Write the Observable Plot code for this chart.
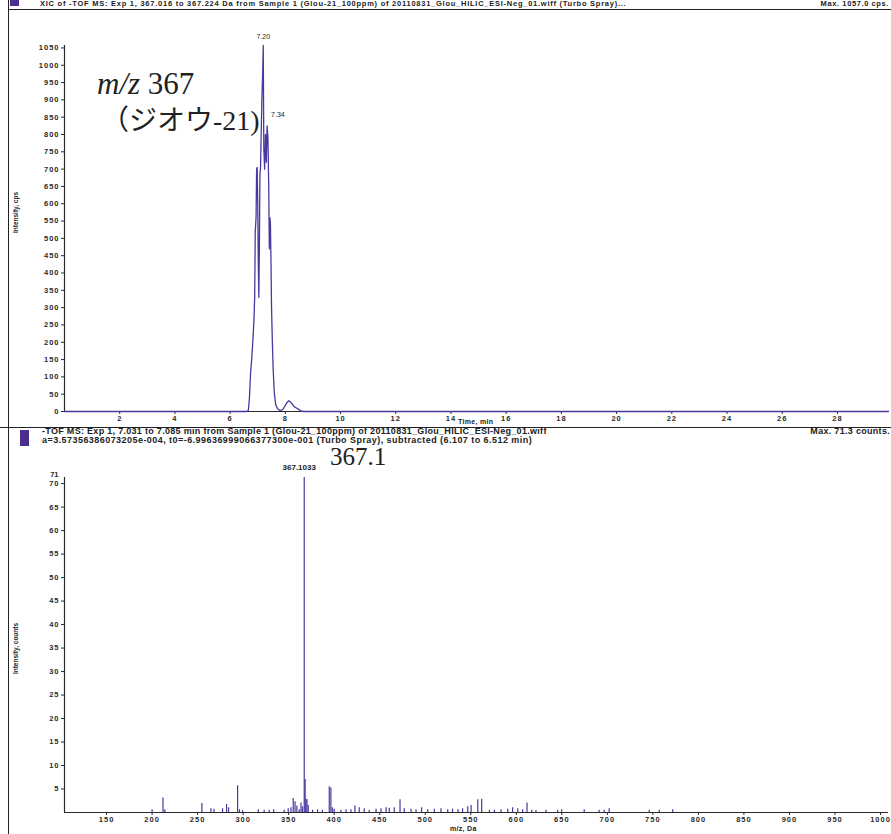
<!DOCTYPE html>
<html><head><meta charset="utf-8">
<script src="https://cdn.jsdelivr.net/npm/d3@7"></script>
<script src="https://cdn.jsdelivr.net/npm/@observablehq/plot@0.6"></script>
<style>
body{margin:0;background:#fff;}
#wrap{position:relative;width:891px;height:834px;overflow:hidden;background:#fff;font-family:"Liberation Sans",Arial,sans-serif;color:#111;}
.abs{position:absolute;white-space:nowrap;}
.hdr{font-size:9px;line-height:9px;font-weight:bold;color:#222;letter-spacing:0.3px;}
.hline{position:absolute;background:#222;}
.ylab{font-size:6.5px;font-weight:bold;color:#222;transform:rotate(-90deg);transform-origin:center;}
.ann{font-family:"Liberation Serif","Times New Roman",serif;color:#222;}
#top,#bot{position:absolute;left:0;}
#top{top:0;} #bot{top:428px;}
g[aria-label^="x-axis"] text, g[aria-label^="y-axis"] text{letter-spacing:1px;font-weight:bold;}
</style></head><body>
<div id="wrap">
  <div id="top"></div>
  <div id="bot"></div>
  <div class="hline" style="left:8px;top:0;width:1px;height:834px;"></div>
  <div class="hline" style="left:8px;top:9px;width:883px;height:1px;"></div>
  <div class="hline" style="left:0;top:427px;width:891px;height:1px;"></div>
  <div class="abs" style="left:10px;top:0;width:9px;height:6px;background:#4b2f8c;"></div>
  <div class="abs hdr" style="left:40px;top:0;font-size:7.5px;line-height:8px;letter-spacing:0.75px;">XIC of -TOF MS: Exp 1, 367.016 to 367.224 Da from Sample 1 (Glou-21_100ppm) of 20110831_Glou_HILIC_ESI-Neg_01.wiff (Turbo Spray)...</div>
  <div class="abs hdr" style="right:2px;top:0;font-size:7.5px;line-height:8px;letter-spacing:0.6px;">Max. 1057.0 cps.</div>
  <div class="abs" style="left:20px;top:430px;width:9px;height:16px;background:#4b2f8c;"></div>
  <div class="abs hdr" style="left:42px;top:427px;">-TOF MS: Exp 1, 7.031 to 7.085 min from Sample 1 (Glou-21_100ppm) of 20110831_Glou_HILIC_ESI-Neg_01.wiff</div>
  <div class="abs hdr" style="left:42px;top:436px;letter-spacing:0.45px;">a=3.57356386073205e-004, t0=-6.99636999066377300e-001 (Turbo Spray), subtracted (6.107 to 6.512 min)</div>
  <div class="abs hdr" style="right:1px;top:427px;">Max. 71.3 counts.</div>
  <div class="abs ylab" style="left:-10px;top:209px;width:50px;text-align:center;">Intensity, cps</div>
  <div class="abs ylab" style="left:-14px;top:645px;width:58px;text-align:center;">Intensity, counts</div>
  <div class="abs hdr" style="left:458px;top:417px;font-size:7px;">Time, min</div>
  <div class="abs hdr" style="left:450px;top:824px;font-size:7px;">m/z, Da</div>
  <div class="abs ann" style="left:97px;top:66px;font-size:31px;"><i>m/z</i> 367</div>
  <div class="abs ann" style="left:101px;top:98px;font-size:28px;font-family:'Liberation Serif','Noto Sans CJK JP',serif;">（ジオウ-21)</div>
  <div class="abs ann" style="left:330px;top:443px;font-size:25px;">367.1</div>
</div>
<script>
// ---- Top panel: extracted ion chromatogram (m/z 367) ----
const xicTime = [0, 6.60, 6.66, 6.70, 6.74, 6.78, 6.82, 6.86, 6.89, 6.91, 6.94, 6.96, 6.98, 7.00, 7.02, 7.04, 7.06, 7.08, 7.10, 7.12, 7.15, 7.18, 7.20, 7.22, 7.25, 7.28, 7.31, 7.34, 7.37, 7.40, 7.42, 7.44, 7.46, 7.48, 7.50, 7.53, 7.56, 7.60, 7.65, 7.72, 7.80, 7.90, 7.98, 8.05, 8.12, 8.18, 8.25, 8.32, 8.40, 8.48, 8.56, 8.65, 29.85];
const xicCps  = [0, 0, 3, 40, 110, 150, 200, 260, 330, 520, 560, 700, 705, 600, 430, 330, 480, 690, 700, 780, 900, 980, 1057, 760, 700, 800, 720, 825, 790, 640, 470, 560, 540, 430, 300, 200, 120, 55, 20, 8, 3, 5, 15, 25, 31, 28, 22, 14, 10, 6, 2, 0, 0];
const peakTimes = [7.20, 7.34];
const peakCps = [1057, 825];
const peakText = ["7.20", "7.34"];
const timeTicks = [2, 4, 6, 8, 10, 12, 14, 16, 18, 20, 22, 24, 26, 28];
const cpsTicks = [0, 50, 100, 150, 200, 250, 300, 350, 400, 450, 500, 550, 600, 650, 700, 750, 800, 850, 900, 950, 1000, 1050];
const timeDomain = [0, 29.85];
const cpsDomain = [0, 1057];

// ---- Bottom panel: mass spectrum ----
const mz = [200, 212, 214, 254.7, 264.6, 268, 277.4, 281.8, 284, 293.9, 296, 299.4, 316.6, 323.1, 328.6, 333.5, 345.1, 349.5, 352.5, 355, 357, 359, 361.6, 363.5, 365.2, 367.1, 368.1, 369.1, 370.1, 371.5, 376.3, 381.8, 387, 394.6, 396.4, 398, 400, 407.4, 413, 418.4, 422.8, 427.5, 433, 438.5, 446, 451.4, 457, 460.5, 466, 472.3, 477, 484.4, 489.9, 496, 502.7, 510, 517.3, 524.7, 530, 536, 541, 546.7, 550.4, 557.7, 562, 570.5, 576, 583.3, 590.6, 596, 601.6, 607, 611.8, 617, 621.6, 632.6, 645.5, 649.8, 674.6, 691, 696.6, 702, 746, 757, 771.8];
const counts = [0.6, 3.1, 0.6, 1.9, 0.8, 0.7, 0.8, 1.7, 1.0, 5.7, 0.6, 0.4, 0.6, 0.5, 0.5, 0.6, 0.5, 0.8, 1.0, 3.0, 2.3, 1.4, 0.6, 2.0, 1.2, 71.3, 7.0, 2.8, 2.7, 1.5, 0.5, 0.6, 0.5, 5.5, 5.2, 1.0, 0.7, 0.5, 0.6, 0.6, 1.4, 1.0, 0.8, 0.5, 0.7, 0.8, 1.0, 0.9, 1.0, 2.7, 0.8, 0.7, 0.6, 1.0, 0.6, 0.7, 0.8, 0.6, 0.7, 0.6, 0.8, 1.2, 1.5, 2.7, 2.8, 0.5, 0.5, 0.6, 0.7, 1.0, 0.8, 0.6, 2.0, 0.5, 0.4, 0.5, 0.5, 0.6, 0.6, 0.5, 0.5, 0.8, 0.5, 0.5, 0.6];
const mzTicks = [150, 200, 250, 300, 350, 400, 450, 500, 550, 600, 650, 700, 750, 800, 850, 900, 950, 1000];
const countTicks = [5, 10, 15, 20, 25, 30, 35, 40, 45, 50, 55, 60, 65, 70];
const countTopTick = ["71"];
const mzDomain = [103.8, 1008.8];
const countDomain = [0, 71.3];
const baseLabel = {mz: 367.1, text: "367.1033"};

const purple = "#4a38a0";
const axisColor = "#2a2a2a";

const xic = xicTime.map((t, i) => ({t, v: xicCps[i]}));
const peaks = peakTimes.map((t, i) => ({t, v: peakCps[i], text: peakText[i]}));
const spec = mz.map((m, i) => ({mz: m, c: counts[i]}));

const topPlot = Plot.plot({
  width: 891, height: 427,
  marginLeft: 64, marginRight: 3, marginTop: 45, marginBottom: 16,
  style: {background: "transparent", fontSize: "7.5px", fontFamily: "Liberation Sans, Arial, sans-serif", color: axisColor, overflow: "visible"},
  x: {domain: timeDomain, ticks: timeTicks, tickSize: 3, tickPadding: 1, label: null, tickFormat: d => String(d)},
  y: {domain: cpsDomain, ticks: cpsTicks, tickSize: 3, tickPadding: 2, label: null, tickFormat: d => String(d)},
  marks: [
    Plot.ruleY([cpsDomain[0]], {stroke: axisColor, strokeWidth: 1.2}),
    Plot.ruleX([timeDomain[0]], {y1: cpsDomain[0], y2: cpsDomain[1], stroke: axisColor, strokeWidth: 1.2}),
    Plot.line(xic, {x: "t", y: "v", stroke: purple, strokeWidth: 1.3}),
    Plot.text(peaks.slice(0, 1), {x: "t", y: "v", text: "text", dy: -9, fontSize: 7, fill: "#222"}),
    Plot.text(peaks.slice(1), {x: "t", y: "v", text: "text", dy: -11, dx: 4, textAnchor: "start", fontSize: 7, fill: "#222"})
  ]
});
document.getElementById("top").appendChild(topPlot);

const botPlot = Plot.plot({
  width: 891, height: 406,
  marginLeft: 64, marginRight: 3, marginTop: 49, marginBottom: 22,
  style: {background: "transparent", fontSize: "7.5px", fontFamily: "Liberation Sans, Arial, sans-serif", color: axisColor, overflow: "visible"},
  x: {domain: mzDomain, ticks: mzTicks, tickSize: 3, tickPadding: 1, label: null, tickFormat: d => String(d)},
  y: {domain: countDomain, ticks: countTicks, tickSize: 3, tickPadding: 2, label: null, tickFormat: d => String(d)},
  marks: [
    Plot.ruleY([countDomain[0]], {stroke: axisColor, strokeWidth: 1.2}),
    Plot.ruleX([mzDomain[0]], {y1: countDomain[0], y2: countDomain[1], stroke: axisColor, strokeWidth: 1.2}),
    Plot.ruleX(spec, {x: "mz", y1: 0, y2: "c", stroke: purple, strokeWidth: 1.2}),
    Plot.text(countTopTick, {x: () => mzDomain[0], y: () => countDomain[1], text: d => d, dx: -6, dy: -3, textAnchor: "end", fontSize: 7.5, fontWeight: "bold", fill: axisColor}),
    Plot.text([baseLabel], {x: "mz", y: () => countDomain[1], text: "text", dy: -10, dx: -5, fontSize: 8, fill: "#222", fontWeight: "bold"})
  ]
});
document.getElementById("bot").appendChild(botPlot);
</script>
</body></html>
